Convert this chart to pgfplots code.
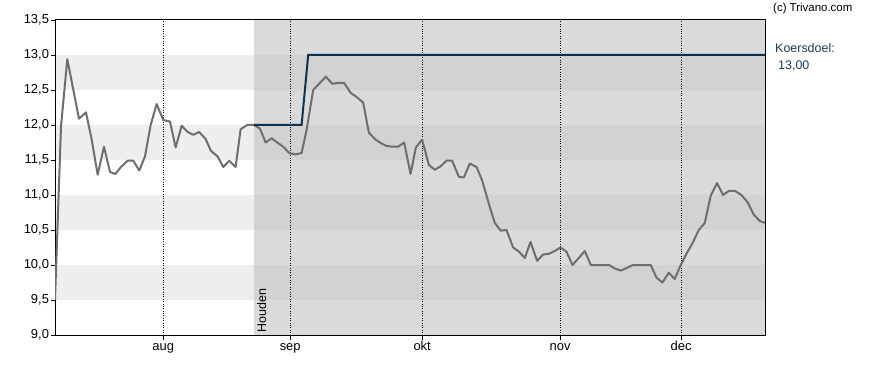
\documentclass[border=0pt]{standalone}
\usepackage{pgfplots}
\pgfplotsset{compat=1.18}
\usepackage{fontspec}
\setmainfont{Liberation Sans}
\definecolor{pricecol}{HTML}{6E6E6E}
\definecolor{targetcol}{HTML}{0D324F}
\definecolor{lightstripe}{HTML}{EEEEEE}
\definecolor{graybase}{HTML}{DADADA}
\definecolor{graystripe}{HTML}{D2D2D2}
\definecolor{labelblue}{HTML}{1B3A5C}
\begin{document}
\begin{tikzpicture}[x=1bp,y=1bp]
\path (0,0) rectangle (888,370);
\begin{axis}[
  at={(55bp,35bp)}, anchor=south west,
  scale only axis, width=710bp, height=315bp,
  xmin=55, xmax=765.3, ymin=9, ymax=13.5,
  set layers, clip=true,
  axis line style={black, line width=1bp},
  xtick={163.3,290.3,422.3,560.3,681.3},
  xticklabels={aug,sep,okt,nov,dec},
  ytick={9,9.5,10,10.5,11,11.5,12,12.5,13,13.5},
  xtick pos=bottom, ytick pos=left,
  tick align=outside, major tick length=4.5bp,
  tick style={black, line width=0.9bp},
  xmajorgrids,
  grid style={black, dotted, line width=0.9bp},
  ticklabel style={font=\fontsize{13}{15}\selectfont, text=black},
  yticklabel style={xshift=2bp},
  xticklabel style={text height=7bp, text depth=2.8bp, yshift=0bp},
  /pgf/number format/.cd, use comma, fixed, fixed zerofill, precision=1, assume math mode=true,
]
% white region stripes
\addplot[on layer=axis background, fill=lightstripe, draw=none] coordinates {(55,9.5)(254,9.5)(254,10)(55,10)} -- cycle;
\addplot[on layer=axis background, fill=lightstripe, draw=none] coordinates {(55,10.5)(254,10.5)(254,11)(55,11)} -- cycle;
\addplot[on layer=axis background, fill=lightstripe, draw=none] coordinates {(55,11.5)(254,11.5)(254,12)(55,12)} -- cycle;
\addplot[on layer=axis background, fill=lightstripe, draw=none] coordinates {(55,12.5)(254,12.5)(254,13)(55,13)} -- cycle;
% gray region
\addplot[on layer=axis background, fill=graybase, draw=none] coordinates {(254,9)(766,9)(766,13.5)(254,13.5)} -- cycle;
\addplot[on layer=axis background, fill=graystripe, draw=none] coordinates {(254,9.5)(766,9.5)(766,10)(254,10)} -- cycle;
\addplot[on layer=axis background, fill=graystripe, draw=none] coordinates {(254,10.5)(766,10.5)(766,11)(254,11)} -- cycle;
\addplot[on layer=axis background, fill=graystripe, draw=none] coordinates {(254,11.5)(766,11.5)(766,12)(254,12)} -- cycle;
\addplot[on layer=axis background, fill=graystripe, draw=none] coordinates {(254,12.5)(766,12.5)(766,13)(254,13)} -- cycle;
% price
\addplot[pricecol, line width=2bp, line join=round] coordinates {
(55,9.5)(61,11.98)(67.3,12.94)(79,12.09)(86,12.18)(91.7,11.79)(97.7,11.29)(104,11.69)(110,11.33)(115.3,11.30)(121,11.40)(127.7,11.49)(133.3,11.49)(139.3,11.35)(145,11.55)(150.7,12.0)(156.7,12.30)(163.3,12.07)(170,12.05)(175.7,11.68)(181.7,11.99)(187.7,11.90)(193.3,11.86)(199.3,11.90)(205.7,11.80)(211,11.63)(217.7,11.55)(223.3,11.40)(229.3,11.49)(235.7,11.40)(240.7,11.94)(247.3,12.0)(254,12.0)(260,11.95)(265.7,11.75)(271.7,11.81)(277.3,11.75)(283.3,11.69)(289.3,11.60)(295.7,11.58)(301.7,11.60)(306.7,11.93)(313.3,12.50)(319.3,12.59)(326,12.69)(332.3,12.59)(338.3,12.60)(344.3,12.60)(350.7,12.46)(356.7,12.40)(363.3,12.32)(369,11.89)(375,11.80)(381,11.74)(386.7,11.70)(392.7,11.69)(398.3,11.69)(404.3,11.75)(410.7,11.30)(416,11.68)(422.3,11.79)(429,11.43)(435,11.36)(440.7,11.41)(446.7,11.49)(452.3,11.49)(459,11.26)(464,11.25)(470,11.45)(476.7,11.40)(482.3,11.21)(489.3,10.86)(495,10.60)(501,10.49)(506.7,10.50)(513.3,10.25)(519.3,10.19)(525,10.10)(530.7,10.33)(537.3,10.06)(543.3,10.15)(549,10.16)(555,10.20)(560.7,10.25)(566.7,10.19)(572.7,10.00)(579,10.10)(585,10.20)(591,10.00)(597.3,10.00)(603.3,10.00)(609.3,10.00)(615,9.95)(621,9.92)(627.3,9.96)(633.3,10.00)(639.3,10.00)(645.7,10.00)(651,10.00)(656.7,9.82)(662.7,9.75)(669,9.89)(675,9.80)(681,10.00)(686.7,10.16)(692.7,10.31)(699,10.50)(705,10.60)(711,10.99)(717.3,11.17)(723.3,11.00)(729.3,11.06)(735,11.06)(741.7,11.00)(747.7,10.90)(754,10.72)(760,10.63)(765.3,10.60)
};
% target
\addplot[targetcol, line width=2bp] coordinates {(254,12)(301.7,12)(308.3,13)(766,13)};
\node[rotate=90, anchor=south west, inner sep=0pt, font=\fontsize{12.5}{14}\selectfont] at (axis cs:266.5,9.04) {Houden};
\end{axis}
\node[anchor=base west, inner sep=0pt, font=\fontsize{11.5}{13}\selectfont] at (773,358.5) {(c) Trivano.com};
\node[anchor=base west, inner sep=0pt, text=labelblue, font=\fontsize{12.5}{14}\selectfont] at (775,318) {Koersdoel:};
\node[anchor=base west, inner sep=0pt, text=labelblue, font=\fontsize{12.5}{14}\selectfont] at (778,301) {13,00};
\end{tikzpicture}
\end{document}
